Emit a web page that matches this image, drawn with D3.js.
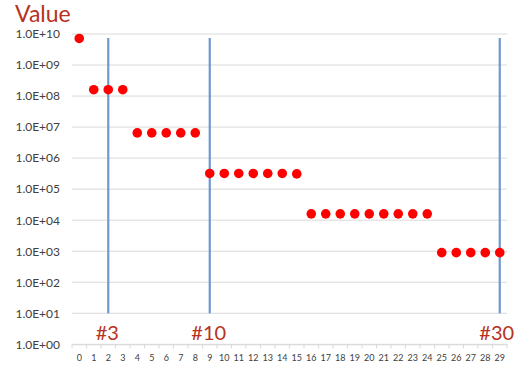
<!DOCTYPE html>
<html>
<head>
<meta charset="utf-8">
<script src="https://cdn.jsdelivr.net/npm/d3@7"></script>
<style>
  html, body { margin: 0; padding: 0; background: #fff; }
  svg { display: block; }
</style>
</head>
<body>
<svg id="chart" width="524" height="367"></svg>
<script>
// Category indices along the x axis
const categories = d3.range(0, 30);

// Value for each category (log scale)
const values = [
  7.2e9,
  1.6e8, 1.6e8, 1.6e8,
  6.5e6, 6.5e6, 6.5e6, 6.5e6, 6.5e6,
  3.2e5, 3.2e5, 3.2e5, 3.2e5, 3.2e5, 3.2e5, 3.1e5,
  1.6e4, 1.6e4, 1.6e4, 1.6e4, 1.6e4, 1.6e4, 1.6e4, 1.6e4, 1.6e4,
  900, 900, 900, 900, 900
];

// Y tick values and their labels
const yTicks = [1e0, 1e1, 1e2, 1e3, 1e4, 1e5, 1e6, 1e7, 1e8, 1e9, 1e10];
const yTickLabels = ["1.0E+00", "1.0E+01", "1.0E+02", "1.0E+03", "1.0E+04", "1.0E+05",
                     "1.0E+06", "1.0E+07", "1.0E+08", "1.0E+09", "1.0E+10"];

// Marker lines: category they sit on, their label, and vertical extent
const markerCats = [2, 9, 29];
const markerLabels = ["#3", "#10", "#30"];
const markerTop = 7.5e9;
const markerBottom = 10;

const svg = d3.select("#chart");
const plot = { left: 72, right: 507, top: 34, bottom: 344.3 };

const x = d3.scaleBand()
  .domain(categories)
  .range([plot.left, plot.right]);

const y = d3.scaleLog()
  .domain([1, 1e10])
  .range([plot.bottom, plot.top]);

// Horizontal gridlines
svg.append("g")
  .selectAll("line")
  .data(yTicks)
  .join("line")
  .attr("x1", plot.left)
  .attr("x2", plot.right)
  .attr("y1", d => y(d))
  .attr("y2", d => y(d))
  .attr("stroke", "#d9d9d9")
  .attr("stroke-width", 1);

// Y axis labels
const yAxis = d3.axisLeft(y)
  .tickValues(yTicks)
  .tickFormat((d, i) => yTickLabels[i])
  .tickSize(0)
  .tickPadding(12);

svg.append("g")
  .attr("transform", `translate(${plot.left},0)`)
  .call(yAxis)
  .call(g => g.select(".domain").remove())
  .call(g => g.selectAll("text")
    .attr("font-family", "Lato, 'Open Sans', sans-serif")
    .attr("font-size", 12)
    .attr("fill", "#404040"));

// X axis with tick marks on category boundaries
const xAxisG = svg.append("g")
  .attr("transform", `translate(0,${plot.bottom})`);

xAxisG.call(d3.axisBottom(x).tickSize(0).tickPadding(10))
  .call(g => g.select(".domain").attr("stroke", "#d9d9d9"))
  .call(g => g.selectAll("text")
    .attr("font-family", "Lato, 'Open Sans', sans-serif")
    .attr("font-size", 9)
    .attr("fill", "#404040"));

xAxisG.append("g")
  .selectAll("line")
  .data(d3.range(0, categories.length + 1))
  .join("line")
  .attr("x1", i => plot.left + i * x.step())
  .attr("x2", i => plot.left + i * x.step())
  .attr("y1", 0)
  .attr("y2", 4)
  .attr("stroke", "#d9d9d9");

const cx = c => x(c) + x.bandwidth() / 2;

// Vertical marker lines
svg.append("g")
  .selectAll("line")
  .data(markerCats)
  .join("line")
  .attr("x1", cx)
  .attr("x2", cx)
  .attr("y1", y(markerTop))
  .attr("y2", y(markerBottom))
  .attr("stroke", "#6f98cf")
  .attr("stroke-width", 2.2);

// Data points
svg.append("g")
  .selectAll("circle")
  .data(values)
  .join("circle")
  .attr("cx", (d, i) => cx(categories[i]))
  .attr("cy", d => y(d))
  .attr("r", 4.8)
  .attr("fill", "#ff0000");

// Marker labels
svg.append("g")
  .selectAll("text")
  .data(markerCats)
  .join("text")
  .attr("x", (d, i) => i === markerCats.length - 1 ? cx(d) - 3 : cx(d) - 1)
  .attr("y", y(1) - 4)
  .attr("text-anchor", "middle")
  .attr("font-family", "Lato, 'Open Sans', sans-serif")
  .attr("font-size", 20)
  .attr("fill", "#b8321d")
  .text((d, i) => markerLabels[i]);

// Axis title
svg.append("text")
  .attr("x", 15)
  .attr("y", 22)
  .attr("font-family", "Lato, 'Open Sans', sans-serif")
  .attr("font-size", 23)
  .attr("fill", "#b8321d")
  .text("Value");
</script>
</body>
</html>
